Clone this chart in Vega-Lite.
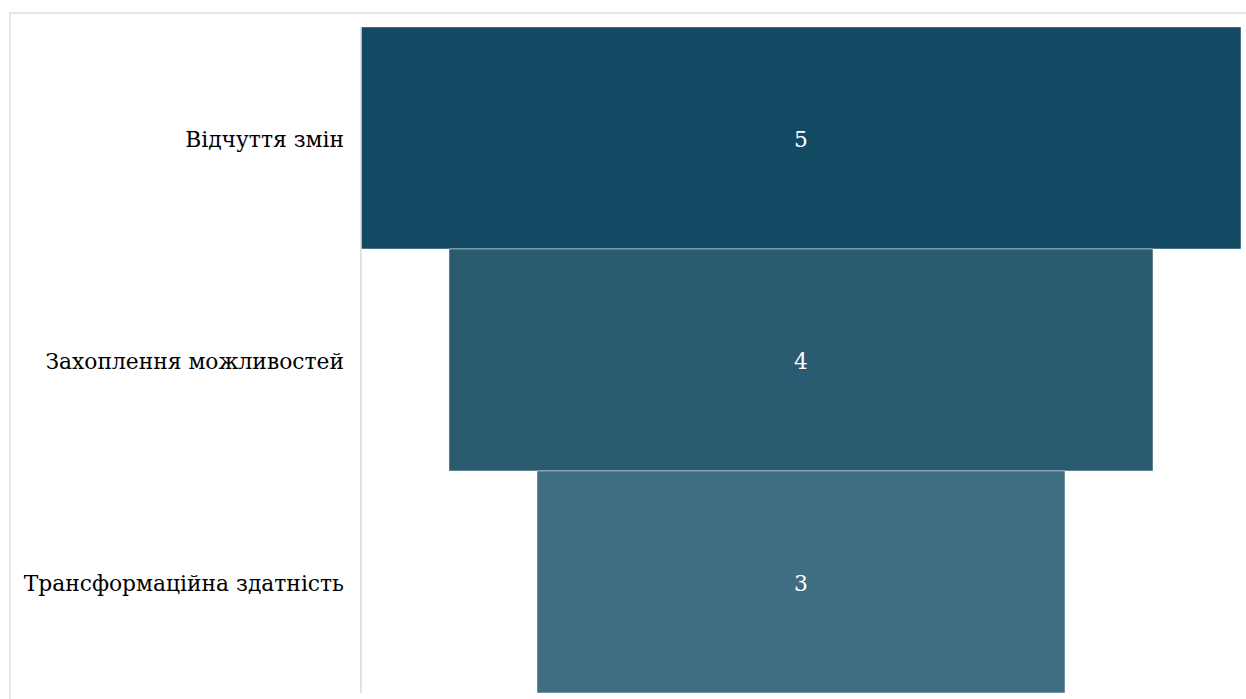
{
  "$schema": "https://vega.github.io/schema/vega-lite/v6.json",
  "autosize": {"type": "none"},
  "padding": {"left": 10, "top": 13, "right": 0, "bottom": 0},
  "width": 1250,
  "height": 700,
  "background": "white",
  "config": {
    "view": {"stroke": "#e6e6e6", "strokeWidth": 2}
  },
  "data": {
    "values": [
      {"stage": "Відчуття змін", "value": 5},
      {"stage": "Захоплення можливостей", "value": 4},
      {"stage": "Трансформаційна здатність", "value": 3}
    ]
  },
  "encoding": {
    "y": {
      "field": "stage",
      "type": "nominal",
      "sort": ["Відчуття змін", "Захоплення можливостей", "Трансформаційна здатність"],
      "axis": null,
      "scale": {"paddingInner": 0, "paddingOuter": 0.0766, "align": 0.41}
    }
  },
  "layer": [
    {
      "mark": {"type": "bar", "stroke": "white", "strokeOpacity": 0.45, "strokeWidth": 1},
      "encoding": {
        "x": {
          "field": "value",
          "type": "quantitative",
          "stack": "center",
          "axis": null,
          "scale": {"domain": [-1.9943, 5.108], "nice": false, "zero": false}
        },
        "color": {
          "field": "stage",
          "type": "nominal",
          "legend": null,
          "sort": ["Відчуття змін", "Захоплення можливостей", "Трансформаційна здатність"],
          "scale": {"range": ["#124963", "#2a5b71", "#3f6d81"]}
        }
      }
    },
    {
      "mark": {"type": "rule", "color": "#d9d9d9", "strokeWidth": 1.5},
      "encoding": {
        "x": {"datum": 0},
        "y": {"field": "stage", "type": "nominal", "sort": ["Відчуття змін", "Захоплення можливостей", "Трансформаційна здатність"], "bandPosition": 0},
        "y2": {"field": "stage", "bandPosition": 1}
      }
    },
    {
      "mark": {"type": "text", "align": "right", "baseline": "middle", "dy": 2, "fontSize": 21.8, "font": "DejaVu Serif", "color": "#000000"},
      "encoding": {
        "x": {"datum": -0.0966},
        "text": {"field": "stage"}
      }
    },
    {
      "mark": {"type": "text", "align": "center", "baseline": "middle", "dy": 2, "fontSize": 21.8, "font": "DejaVu Serif", "color": "white"},
      "encoding": {
        "x": {"datum": 2.5},
        "text": {"field": "value"}
      }
    }
  ]
}
